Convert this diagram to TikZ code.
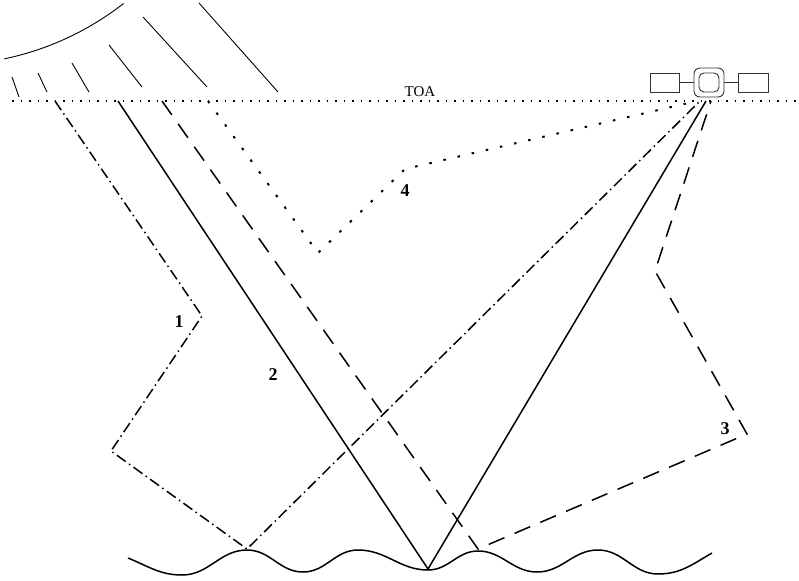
\documentclass[tikz,border=0pt]{standalone}
\usepackage{fontspec}
\setmainfont{Liberation Serif}
\begin{document}
\begin{tikzpicture}[x=1pt,y=-1pt,
  ray/.style={line width=0.9pt},
  toa/.style={line width=1.1pt, dash pattern=on 1.5pt off 7pt},
  pathA/.style={line width=1.5pt, dash pattern=on 11pt off 4pt on 1.5pt off 4pt},
  pathB/.style={line width=1.5pt},
  pathC/.style={line width=1.5pt, dash pattern=on 17pt off 11pt},
  pathD/.style={line width=2pt, dash pattern=on 2.5pt off 12pt},
  sat/.style={line width=0.9pt, draw=black!80},
  wave/.style={line width=1.5pt},
  lbl/.style={font=\bfseries\fontsize{18}{18}\selectfont},
  toalbl/.style={font=\fontsize{15}{15}\selectfont}]
\useasboundingbox (0,0) rectangle (799,580);

% sun edge and its rays
\draw[ray] plot[domain=52:78.2, samples=40] ({-55+290*cos(\x)}, {-225+290*sin(\x)});
\draw[ray] (12,77) -- (19,97);
\draw[ray] (38,73) -- (47,92);
\draw[ray] (72,63) -- (89,92);
\draw[ray] (109,45) -- (142,87);
\draw[ray] (143,17) -- (207,87);
\draw[ray] (199,3) -- (278,92);

% top of atmosphere
\coordinate (toaL) at (12,101);
\coordinate (toaR) at (799,101);
\draw[toa] (toaL) -- (toaR);
\node[toalbl] (toa) at (420,92) {TOA};

% satellite
\node[sat, draw, rounded corners=6pt, minimum width=30pt, minimum height=29pt, inner sep=0pt] (body) at (709,82.5) {};
\node[sat, draw, rounded corners=5pt, minimum width=20pt, minimum height=19pt, inner sep=0pt] (core) at (709,82.5) {};
\node[sat, draw, minimum width=29pt, minimum height=19pt, inner sep=0pt] (panelL) at (664.5,82.5) {};
\node[sat, draw, minimum width=30pt, minimum height=19pt, inner sep=0pt] (panelR) at (753,82.5) {};
\draw[sat] (panelL.east) -- (body.west);
\draw[sat] (body.east) -- (panelR.west);

% sea surface
\coordinate (w0) at (128,558);
\coordinate (t1) at (182,575);
\coordinate (c1) at (247,550);
\coordinate (t2) at (303,572);
\coordinate (c2) at (358,550);
\coordinate (t3) at (428,570);
\coordinate (c3) at (478,551);
\coordinate (t4) at (537,572);
\coordinate (c4) at (598,550);
\coordinate (t5) at (658,574);
\coordinate (w1) at (712,553);
\draw[wave] (w0) to[out=-22,in=180] (t1) to[out=0,in=180] (c1)
  to[out=0,in=180] (t2) to[out=0,in=180] (c2) to[out=0,in=180] (t3)
  to[out=0,in=180] (c3) to[out=0,in=180] (t4) to[out=0,in=180] (c4)
  to[out=0,in=180] (t5) to[out=0,in=-150] (w1);

% path 1
\coordinate (a0) at (55,101);
\coordinate (a1) at (202,316);
\coordinate (a2) at (111,451);
\coordinate (a3) at (247,549);
\coordinate (a4) at (700,101);
\draw[pathA] (a0) -- (a1) -- (a2) -- (a3) -- (a4);
\node[lbl] (n1) at (179,322) {1};

% path 2
\coordinate (b0) at (118,101);
\coordinate (b1) at (428,569);
\coordinate (b2) at (706,101);
\draw[pathB] (b0) -- (b1) -- (b2);
\node[lbl] (n2) at (273,375) {2};

% path 3
\coordinate (d0) at (162,101);
\coordinate (d1) at (478,549);
\coordinate (d2) at (747,434);
\coordinate (d3) at (655,271);
\coordinate (d4) at (711,101);
\draw[pathC] (d0) -- (d1) -- (d2) -- (d3) -- (d4);
\node[lbl] (n3) at (725,429) {3};

% path 4
\coordinate (e0) at (208,101);
\coordinate (e1) at (318,253);
\coordinate (e2) at (405,169);
\coordinate (e3) at (697,101);
\draw[pathD] (e0) -- (e1) -- (e2) -- (e3);
\node[lbl] (n4) at (405,191) {4};
\end{tikzpicture}
\end{document}
